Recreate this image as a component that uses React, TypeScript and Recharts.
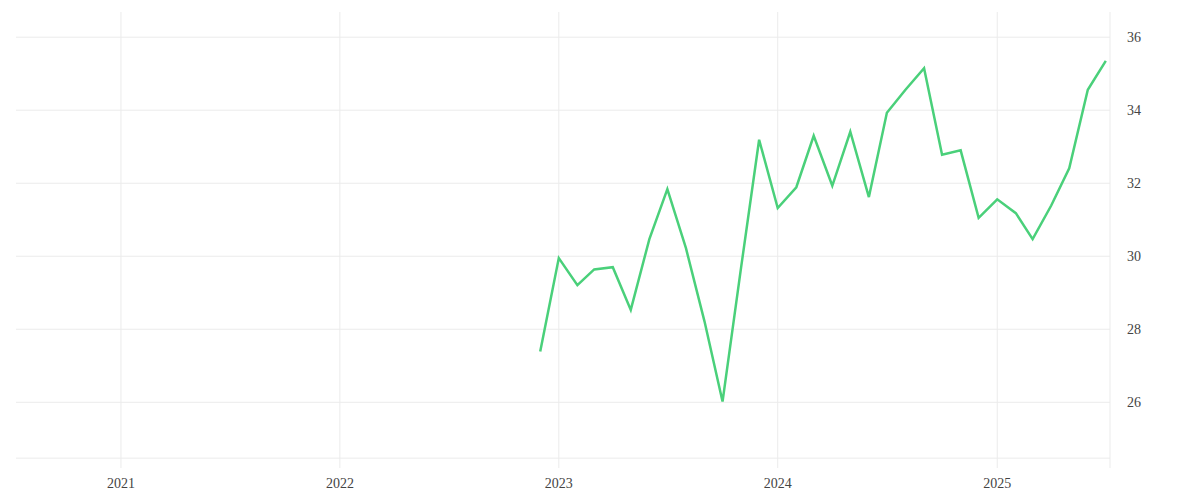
import {
  LineChart,
  Line,
  XAxis,
  YAxis,
  CartesianGrid,
  ReferenceLine,
} from 'recharts'

// monthly readings, Dec 2022 – Jul 2025
const MONTHS = [
  '2022-12',
  '2023-01', '2023-02', '2023-03', '2023-04', '2023-05', '2023-06',
  '2023-07', '2023-08', '2023-09', '2023-10', '2023-11', '2023-12',
  '2024-01', '2024-02', '2024-03', '2024-04', '2024-05', '2024-06',
  '2024-07', '2024-08', '2024-09', '2024-10', '2024-11', '2024-12',
  '2025-01', '2025-02', '2025-03', '2025-04', '2025-05', '2025-06',
  '2025-07',
]
const VALUES = [
  27.39,
  29.95, 29.21, 29.64, 29.7, 28.53, 30.47,
  31.84, 30.22, 28.21, 26.02, 29.7, 33.19,
  31.32, 31.89, 33.3, 31.93, 33.41, 31.62,
  33.93, 34.56, 35.15, 32.78, 32.9, 31.05,
  31.56, 31.18, 30.47, 31.39, 32.41, 34.56,
  35.35,
]
const YEAR_TICKS = [2021, 2022, 2023, 2024, 2025]
const Y_TICKS = [26, 28, 30, 32, 34, 36]
const Y_DOMAIN = [24.2, 36.69]
const Y_BASE = 24.47
const X_DOMAIN = [Date.UTC(2020, 6, 10), Date.UTC(2025, 6, 8)]

const data = MONTHS.map((m, i) => {
  const [y, mo] = m.split('-').map(Number)
  return { t: Date.UTC(y, mo - 1, 1), value: VALUES[i] }
})

const GREEN = '#4ad07a'
const GRID = '#ebebeb'
const TICK = { fontSize: 14, fill: '#444', fontFamily: '"Liberation Serif", serif' }

export default function App() {
  return (
    <LineChart
      width={1184}
      height={492}
      data={data}
      margin={{ top: 4, right: 0, left: 8, bottom: 0 }}
    >
      <CartesianGrid stroke={GRID} syncWithTicks />
      <ReferenceLine y={Y_BASE} stroke={GRID} />
      <XAxis
        dataKey="t"
        type="number"
        scale="time"
        domain={X_DOMAIN}
        ticks={YEAR_TICKS.map((y) => Date.UTC(y, 0, 1))}
        tickFormatter={(v) => String(new Date(v).getUTCFullYear())}
        axisLine={false}
        tickLine={false}
        tickSize={0}
        tickMargin={10}
        height={32}
        tick={TICK}
        allowDataOverflow
      />
      <YAxis
        orientation="right"
        domain={Y_DOMAIN}
        ticks={Y_TICKS}
        axisLine={{ stroke: GRID }}
        tickLine={false}
        tickSize={0}
        tickMargin={17}
        width={82}
        tick={TICK}
        allowDataOverflow
      />
      <Line
        dataKey="value"
        stroke={GREEN}
        strokeWidth={2.5}
        dot={false}
        type="linear"
        isAnimationActive={false}
      />
    </LineChart>
  )
}
